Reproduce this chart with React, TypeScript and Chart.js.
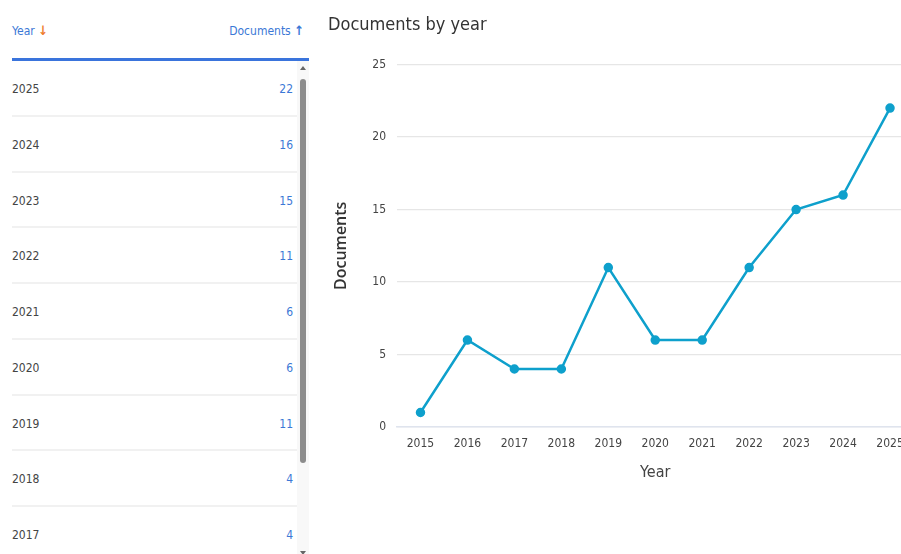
import React, { useEffect, useRef } from "react";
import { Chart, registerables } from "chart.js";

Chart.register(...registerables);

const years = ["2015", "2016", "2017", "2018", "2019", "2020", "2021", "2022", "2023", "2024", "2025"];
const documents = [1, 6, 4, 4, 11, 6, 6, 11, 15, 16, 22];
const yTicks = [0, 5, 10, 15, 20, 25];

const NARROW = "'Liberation Sans Narrow', 'DejaVu Sans Condensed', 'Liberation Sans', sans-serif";
const BLUE = "#3b78d6";
const LINE = "#0ea0cc";

function LineChart() {
  const ref = useRef<HTMLCanvasElement | null>(null);
  useEffect(() => {
    if (!ref.current) return;
    const chart = new Chart(ref.current, {
      type: "line",
      data: {
        labels: years,
        datasets: [
          {
            label: "Documents",
            data: documents,
            borderColor: LINE,
            backgroundColor: LINE,
            borderWidth: 2.5,
            pointRadius: 3.5,
            pointBackgroundColor: LINE,
            pointBorderColor: LINE,
            tension: 0,
          },
        ],
      },
      options: {
        responsive: false,
        animation: false,
        layout: { padding: { left: 0, right: 0, top: 0, bottom: 57 } },
        plugins: {
          legend: { display: false },
          tooltip: { enabled: false },
          title: {
            display: true,
            text: "Documents by year",
            align: "start",
            color: "#333",
            font: { family: NARROW, size: 18, weight: "normal" },
            padding: { top: 15, bottom: 28 },
          },
        },
        scales: {
          x: {
            type: "category",
            offset: true,
            grid: { display: false, drawTicks: false },
            border: { display: true, color: "#dfe4ee", width: 1.5 },
            ticks: { color: "#444", font: { family: NARROW, size: 12 }, padding: 10, maxRotation: 0, autoSkip: false },
            title: {
              display: true,
              text: "Year",
              color: "#444",
              font: { family: NARROW, size: 16 },
              padding: { top: 0, bottom: 15 },
            },
            afterFit: (s: any) => {
              s.height = 70;
            },
          },
          y: {
            min: 0,
            max: 25,
            afterBuildTicks: (s: any) => {
              s.ticks = yTicks.map((v) => ({ value: v }));
            },
            grid: { color: "#e6e6e6", lineWidth: 1.3, drawTicks: false },
            border: { display: false },
            ticks: { color: "#444", font: { family: NARROW, size: 12 }, padding: 11 },
            title: {
              display: true,
              text: "Documents",
              color: "#333",
              font: { family: "'Open Sans', sans-serif", size: 16, weight: "600" },
              padding: { top: 4, bottom: 0 },
            },
            afterFit: (s: any) => {
              s.width = 69;
            },
          },
        },
      },
    });
    return () => chart.destroy();
  }, []);
  return <canvas ref={ref} width={592} height={554} style={{ position: "absolute", left: 328, top: 0, width: 592, height: 554 }} />;
}

export default function App() {
  const rows = years.map((y, i) => ({ year: y, docs: documents[i] })).reverse();
  const rowH = 55.75;
  return (
    <div
      style={{
        position: "fixed",
        left: 0,
        top: 0,
        width: 901,
        height: 554,
        overflow: "hidden",
        background: "#fff",
        fontFamily: NARROW,
      }}
    >
      {/* table header */}
      <div style={{ position: "absolute", left: 12, top: 23, fontSize: 12, color: BLUE, lineHeight: "16px" }}>
        Year <span style={{ color: "#ee7b2c", fontSize: 13, fontWeight: 700 }}>↓</span>
      </div>
      <div style={{ position: "absolute", right: 901 - 304, top: 23, fontSize: 12, color: BLUE, lineHeight: "16px" }}>
        Documents <span style={{ fontSize: 13, fontWeight: 700 }}>↑</span>
      </div>
      <div style={{ position: "absolute", left: 12, top: 58, width: 297, height: 3, background: "#3a74dc" }} />
      {/* rows */}
      <div style={{ position: "absolute", left: 12, top: 61, width: 285, height: 493, overflow: "hidden" }}>
        {rows.map((r, i) => (
          <div
            key={r.year}
            style={{
              position: "absolute",
              left: 0,
              top: i * rowH,
              width: 285,
              height: rowH,
              boxSizing: "border-box",
              borderBottom: "2px solid #f1f1f1",
              fontSize: 12,
            }}
          >
            <span style={{ position: "absolute", left: 0, top: 21, color: "#444" }}>{r.year}</span>
            <span style={{ position: "absolute", right: 4, top: 21, color: BLUE }}>{r.docs}</span>
          </div>
        ))}
      </div>
      {/* scrollbar */}
      <div style={{ position: "absolute", left: 297, top: 61, width: 12, height: 493, background: "#f8f8f8" }} />
      <div
        style={{
          position: "absolute",
          left: 300,
          top: 66,
          width: 0,
          height: 0,
          borderLeft: "3px solid transparent",
          borderRight: "3px solid transparent",
          borderBottom: "4px solid #666",
        }}
      />
      <div style={{ position: "absolute", left: 300, top: 79, width: 6, height: 384, borderRadius: 3, background: "#8c8c8c" }} />
      <div
        style={{
          position: "absolute",
          left: 300,
          top: 551,
          width: 0,
          height: 0,
          borderLeft: "3px solid transparent",
          borderRight: "3px solid transparent",
          borderTop: "4px solid #666",
        }}
      />
      <LineChart />
    </div>
  );
}
